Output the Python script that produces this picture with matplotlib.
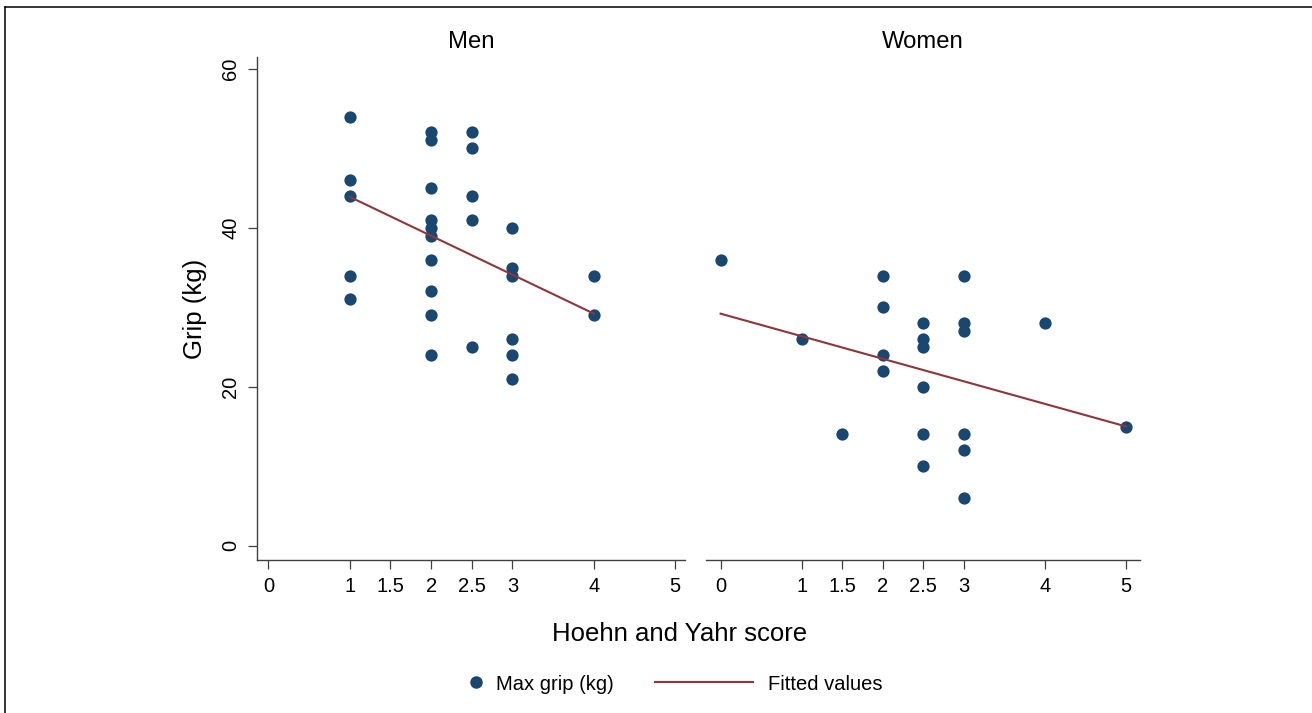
import matplotlib
matplotlib.use("Agg")
import matplotlib.pyplot as plt
from matplotlib.lines import Line2D

plt.rcParams["font.family"] = ["Liberation Sans", "DejaVu Sans"]

NAVY, MAROON, AXIS = "#1a476f", "#90353b", "#404040"

# Hoehn and Yahr score vs max grip
men_hy = [1, 1, 1, 1, 1,
          2, 2, 2, 2, 2, 2, 2, 2, 2, 2,
          2.5, 2.5, 2.5, 2.5, 2.5,
          3, 3, 3, 3, 3, 3,
          4, 4]
men_grip = [54, 46, 44, 34, 31,
            52, 51, 45, 41, 40, 39, 36, 32, 29, 24,
            52, 50, 44, 41, 25,
            40, 35, 34, 26, 24, 21,
            34, 29]

women_hy = [0, 1, 1.5,
            2, 2, 2, 2,
            2.5, 2.5, 2.5, 2.5, 2.5, 2.5,
            3, 3, 3, 3, 3, 3,
            4, 5]
women_grip = [36, 26, 14,
              34, 30, 24, 22,
              28, 26, 25, 20, 14, 10,
              34, 28, 27, 14, 12, 6,
              28, 15]

# fitted line endpoints as drawn
men_fit_x, men_fit_y = [1, 4], [43.9, 29.2]
women_fit_x, women_fit_y = [0, 5], [29.2, 15.0]

panels = ["Men", "Women"]
xticks = [0, 1, 1.5, 2, 2.5, 3, 4, 5]
xticklabels = ["0", "1", "1.5", "2", "2.5", "3", "4", "5"]
yticks = [0, 20, 40, 60]

W, H = 1312, 713
fig = plt.figure(figsize=(W / 100, H / 100), dpi=100)
fig.patch.set_facecolor("white")


def box(l, r, t=57, b=560):
    return [l / W, 1 - b / H, (r - l) / W, (b - t) / H]


ax_m = fig.add_axes(box(257, 685))
ax_w = fig.add_axes(box(706, 1140))

data = [(men_hy, men_grip, men_fit_x, men_fit_y),
        (women_hy, women_grip, women_fit_x, women_fit_y)]

for ax, name, (hx, gy, fx, fy) in zip([ax_m, ax_w], panels, data):
    ax.scatter(hx, gy, s=78, color=NAVY, linewidths=0, zorder=3)
    ax.plot(fx, fy, color=MAROON, lw=1.5, zorder=4)
    ax.set_ylim(-1.8, 61.5)
    ax.set_xticks(xticks)
    ax.set_xticklabels(xticklabels)
    for s in ["top", "right"]:
        ax.spines[s].set_visible(False)
    for s in ["left", "bottom"]:
        ax.spines[s].set_color(AXIS)
        ax.spines[s].set_linewidth(1.0)
    ax.tick_params(axis="both", length=6.5, width=0.9, color=AXIS,
                   labelsize=14.5, pad=5.5)
    ax.text(0.5, 1.018, name, transform=ax.transAxes, ha="center",
            va="baseline", fontsize=17.2)

ax_m.set_xlim(-0.14, 5.12)
ax_w.set_xlim(-0.18, 5.17)
ax_m.set_yticks(yticks)
ax_m.set_yticklabels([str(v) for v in yticks], rotation=90, va="center")
ax_m.set_ylabel("Grip (kg)", fontsize=18.5)
ax_m.yaxis.set_label_coords(-0.117, 0.5)

ax_w.spines["left"].set_visible(False)
ax_w.set_yticks([])

fig.text(680 / W, 1 - 640.7 / H, "Hoehn and Yahr score", ha="center",
         va="baseline", fontsize=18.5)

# legend: two pieces so each key has its own length
h_dot = Line2D([], [], ls="none", marker="o", ms=9, mfc=NAVY, mec="none")
h_fit = Line2D([], [], color=MAROON, lw=1.5)
ly = 1 - 684 / H
fig.legend([h_dot], ["Max grip (kg)"], loc="center", bbox_to_anchor=(540 / W, ly),
           frameon=False, fontsize=14.5, handlelength=1.0, handletextpad=0.5,
           borderpad=0, borderaxespad=0)
fig.legend([h_fit], ["Fitted values"], loc="center", bbox_to_anchor=(768.5 / W, ly),
           frameon=False, fontsize=14.5, handlelength=4.85, handletextpad=0.75,
           borderpad=0, borderaxespad=0)

# outer frame (left and top edges only are visible)
fig.add_artist(Line2D([4.5 / W, 4.5 / W], [0, 1 - 6.5 / H], color="black", lw=1.1))
fig.add_artist(Line2D([4.5 / W, 1], [1 - 6.5 / H, 1 - 6.5 / H], color="black", lw=1.1))

fig.savefig("out.png", dpi=100, facecolor="white")
